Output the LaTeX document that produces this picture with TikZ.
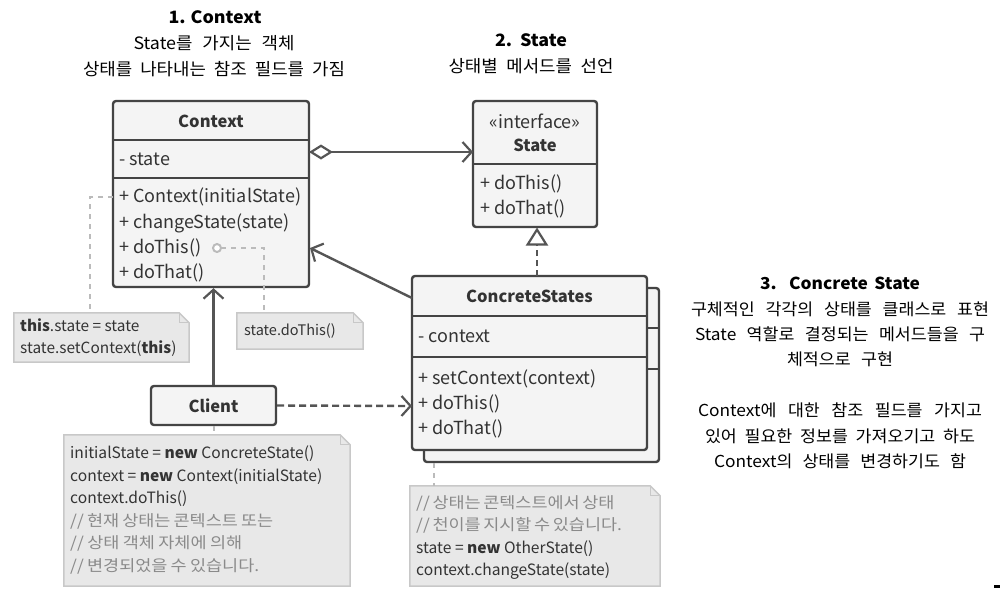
\documentclass[tikz,border=0pt]{standalone}
\usepackage{fontspec}
\setmainfont{Noto Sans CJK KR}
\newfontfamily\krn[FakeStretch=1.12]{Noto Sans CJK KR}
\newfontfamily\ttlfont[FakeStretch=1.05]{Noto Sans CJK KR}
\usetikzlibrary{arrows.meta,calc}
\hbadness=10000 \hfuzz=50pt
\newcommand\fitw[2]{\makebox[#1pt][s]{#2}}
\definecolor{boxline}{HTML}{444444}
\definecolor{boxfill}{HTML}{F4F4F4}
\definecolor{txt}{HTML}{333333}
\definecolor{notefill}{HTML}{E8E8E8}
\definecolor{noteline}{HTML}{C8C8C8}
\definecolor{cmt}{HTML}{8A8A8A}
\definecolor{conn}{HTML}{555555}
\definecolor{dots}{HTML}{BBBBBB}
\newcommand\notedraw[1]{%
  \draw[notestyle] (#1.north west) -- ($(#1.north east)+(-10,0)$) -- ($(#1.north east)+(0,10)$) -- (#1.south east) -- (#1.south west) -- cycle;
  \draw[noteline, line width=1.3pt] ($(#1.north east)+(-10,0)$) -- ($(#1.north east)+(-10,10)$) -- ($(#1.north east)+(0,10)$);}
\tikzset{
  umlbox/.style={draw=boxline, fill=boxfill, line width=2.4pt, rounded corners=3pt, inner sep=0pt},
  divider/.style={draw=boxline, line width=2.4pt},
  btext/.style={text=txt, font=\fontsize{18}{21}\selectfont, inner sep=0pt},
  btitle/.style={text=txt, font=\fontsize{16.5}{19}\bfseries\selectfont, inner sep=0pt},
  notebg/.style={inner sep=0pt},
  notestyle/.style={fill=notefill, draw=noteline, line width=1.5pt},
  ntext/.style={text=txt, font=\fontsize{15.6}{22.5}\selectfont, align=left, inner sep=0pt, anchor=north west},
  ttl/.style={text=black, font=\fontsize{17}{26}\ttlfont, align=center, inner sep=0pt},
  assoc/.style={draw=conn, line width=2.4pt, -{Straight Barb[length=9pt,width=20pt,line width=2.2pt]}},
  dotconn/.style={draw=dots, line width=2pt, dash pattern=on 5pt off 5pt},
}
\begin{document}
\begin{tikzpicture}[x=1pt,y=-1pt]
\useasboundingbox[fill=white] (0,0) rectangle (1000,592);

% titles
\node[ttl] (t1) at (214,44) {\fitw{91}{\textbf{1. Context}}\\\fitw{161}{State를 가지는 객체}\\\fitw{262}{상태를 나타내는 참조 필드를 가짐}};
\node[ttl] (t2) at (531,54) {\fitw{72}{\textbf{2. State}}\\\fitw{165}{상태별 메서드를 선언}};
\node[ttl, font=\fontsize{16.5}{25.3}\ttlfont] (t3) at (840,373) {\fitw{160}{\textbf{3. Concrete State}}\\\fitw{298}{구체적인 각각의 상태를 클래스로 표현}\\\fitw{290}{State 역할로 결정되는 메서드들을 구}\\\fitw{106}{체적으로 구현}\\[26pt]\fitw{284}{Context에 대한 참조 필드를 가지고}\\\fitw{270}{있어 필요한 정보를 가져오기고 하도}\\\fitw{252}{Context의 상태를 변경하기도 함}};

% Context box
\node[umlbox, minimum width=196pt, minimum height=186pt] (ctx) at (211,194) {};
\draw[divider] (113,140) -- (309,140);
\draw[divider] (113,178) -- (309,178);
\node[btitle] (ctxh) at (211,121) {Context};
\node[btext, anchor=west] (ctxf) at (119,159) {- state};
\node[btext, anchor=west] (ctxm1) at (119,197) {+ Context(initialState)};
\node[btext, anchor=west] (ctxm2) at (119,223) {+ changeState(state)};
\node[btext, anchor=west] (ctxm3) at (119,248) {+ doThis()};
\node[btext, anchor=west] (ctxm4) at (119,273) {+ doThat()};

% State box
\node[umlbox, minimum width=124pt, minimum height=126pt] (st) at (535,164) {};
\draw[divider] (473,164) -- (597,164);
\node[btext] (sti) at (535,121) {«interface»};
\node[btitle] (sth) at (535,145) {State};
\node[btext, anchor=west] (stm1) at (480,184) {+ doThis()};
\node[btext, anchor=west] (stm2) at (480,209) {+ doThat()};

% ConcreteStates (stacked)
\node[umlbox, minimum width=235pt, minimum height=174pt] (csb) at (541.5,375) {};
\draw[divider] (424,328) -- (659,328);
\draw[divider] (424,369) -- (659,369);
\node[umlbox, minimum width=235pt, minimum height=174pt] (cs) at (529.5,363) {};
\draw[divider] (412,316) -- (647,316);
\draw[divider] (412,357) -- (647,357);
\node[btitle] (csh) at (529.5,296) {ConcreteStates};
\node[btext, anchor=west] (csf) at (418,336) {- context};
\node[btext, anchor=west] (csm1) at (418,379) {+ setContext(context)};
\node[btext, anchor=west] (csm2) at (418,404) {+ doThis()};
\node[btext, anchor=west] (csm3) at (418,429) {+ doThat()};

% Client
\node[umlbox, minimum width=125pt, minimum height=39pt] (cl) at (213.5,405.5) {};
\node[btitle] (clh) at (213.5,406) {Client};

% notes
\node[notebg, minimum width=175pt, minimum height=49pt] (n1) at (101.5,337.5) {};
\notedraw{n1}
\node[ntext, font=\fontsize{15.4}{22}\selectfont] (n1t) at (20,318) {\textbf{this}.state = state\\state.setContext(\textbf{this})};

\node[notebg, minimum width=126pt, minimum height=36pt] (n2) at (300,331) {};
\notedraw{n2}
\node[btext, font=\fontsize{14.5}{22}\selectfont, anchor=west] (n2t) at (244,331) {state.doThis()};

\node[notebg, minimum width=286pt, minimum height=151pt] (n3) at (207,510.5) {};
\notedraw{n3}
\node[ntext] (n3t) at (70,446) {initialState = \textbf{new} ConcreteState()\\context = \textbf{new} Context(initialState)\\context.doThis()\\\textcolor{cmt}{\krn\fitw{203}{// 현재 상태는 콘텍스트 또는}}\\\textcolor{cmt}{\krn\fitw{172}{// 상태 객체 자체에 의해}}\\\textcolor{cmt}{\krn\fitw{189}{// 변경되었을 수 있습니다.}}};

\node[notebg, minimum width=250pt, minimum height=100pt] (n4) at (535,536) {};
\notedraw{n4}
\node[ntext] (n4t) at (416,495) {\textcolor{cmt}{\krn\fitw{182}{// 상태는 콘텍스트에서 상태}}\\\textcolor{cmt}{\krn\fitw{202}{// 천이를 지시할 수 있습니다.}}\\state = \textbf{new} OtherState()\\context.changeState(state)};

% connectors
\coordinate (ctxR) at (309,152);
\coordinate (stL) at (473,152);
\draw[draw=conn, line width=2.4pt, {Diamond[open,length=24pt,width=15pt,line width=2.2pt,fill=white]}-{Straight Barb[length=9pt,width=20pt,line width=2.2pt]}] (ctxR) -- (stL);

\coordinate (csTop) at (537,276);
\coordinate (stBot) at (537,227.5);
\draw[draw=conn, line width=2.4pt, dash pattern=on 6pt off 4pt, -{Triangle[open,length=18pt,width=22pt,line width=2.2pt,fill=white]}] (csTop) -- (stBot);

\coordinate (csL) at (412,298);
\coordinate (ctxRb) at (310,248);
\draw[assoc] (csL) -- (ctxRb);

\draw[assoc] (cl.north) -- (cl.north |- ctx.south);

\coordinate (csL2) at (412,406);
\draw[assoc, dash pattern=on 7pt off 4pt] (cl.east) -- (csL2);

% dotted note links
\coordinate (a1) at (113,197);
\draw[dotconn] (a1) -- (90,197) -- (90,313);
\coordinate (a2) at (217,248);
\draw[dotconn] (a2) ++(4,0) -- (264,248) -- (264,313);
\draw[draw=dots, line width=2pt, fill=white] (a2) circle (4pt);
\draw[dotconn] (cl.south) -- (n3.north -| cl.south);
\coordinate (a4) at (434,463);
\draw[dotconn] (a4) -- (434,486);

\fill[black] (994,585) rectangle (1000,587.5);
\end{tikzpicture}
\end{document}
